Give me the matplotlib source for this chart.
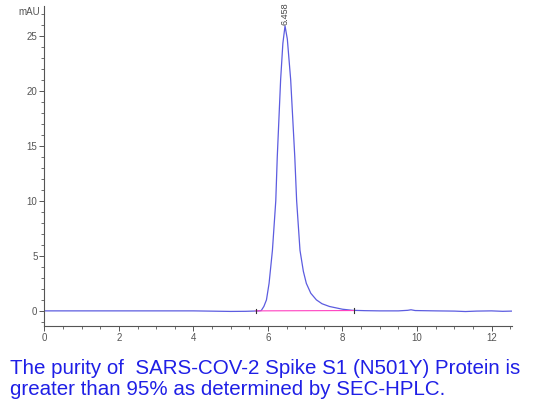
import numpy as np
import matplotlib.pyplot as plt
from matplotlib.ticker import MultipleLocator

plt.rcParams['font.family'] = ['Liberation Sans', 'DejaVu Sans']

# chromatogram trace (min, mAU)
time_min = [0.0, 1.0, 2.0, 3.0, 4.0, 4.6, 5.0, 5.4, 5.6, 5.75, 5.82,
            5.89, 5.96, 6.03, 6.12, 6.21, 6.25, 6.34, 6.40, 6.458,
            6.52, 6.61, 6.72, 6.77, 6.86, 6.95, 7.03, 7.15, 7.30, 7.45,
            7.65, 8.0, 8.27, 8.6, 9.0, 9.5, 9.75, 9.84, 9.95, 10.5,
            11.0, 11.3, 11.6, 12.0, 12.3, 12.55]
signal_mau = [0.0, 0.0, 0.0, 0.0, 0.0, -0.03, -0.05, -0.04, -0.02, 0.0, 0.03,
              0.4, 1.0, 2.5, 5.5, 10.0, 14.0, 21.0, 24.3, 25.9,
              24.7, 21.0, 14.0, 10.0, 5.5, 3.6, 2.5, 1.6, 1.0, 0.65,
              0.4, 0.15, 0.05, 0.02, 0.0, 0.0, 0.05, 0.1, 0.03, 0.0,
              -0.02, -0.06, -0.02, 0.0, -0.04, -0.02]

# integration baseline of the main peak
base_time = [5.67, 8.32]
base_mau = [0.0, 0.03]

peak_rt = 6.458
peak_height = 25.9

xticks = [0, 2, 4, 6, 8, 10, 12]
yticks = [0, 5, 10, 15, 20, 25]

caption = ("The purity of  SARS-COV-2 Spike S1 (N501Y) Protein is\n"
           "greater than 95% as determined by SEC-HPLC.")

fig = plt.figure(figsize=(5.35, 4.05), dpi=100)
ax = fig.add_axes([0.083, 0.196, 0.874, 0.789])

ax.plot(time_min, signal_mau, color='#5c5ce0', lw=0.9)
ax.plot(base_time, base_mau, color='#ff40c0', lw=0.8)
for t, v in zip(base_time, base_mau):
    ax.plot([t, t], [v - 0.2, v + 0.2], color='#333333', lw=0.8)

ax.text(peak_rt, peak_height + 0.1, f'{peak_rt:.3f}', rotation=90, ha='center',
        va='bottom', fontsize=6.5, color='#444444', clip_on=False)

ax.set_xlim(0, 12.55)
ax.set_ylim(-1.34, 27.7)
ax.set_xticks(xticks)
ax.set_yticks(yticks)
ax.xaxis.set_minor_locator(MultipleLocator(0.5))
ax.yaxis.set_minor_locator(MultipleLocator(1))

for side in ['top', 'right']:
    ax.spines[side].set_visible(False)
for side in ['left', 'bottom']:
    ax.spines[side].set_color('#555555')
    ax.spines[side].set_linewidth(0.8)

ax.tick_params(which='major', length=3.5, width=0.7, color='#555555',
               labelsize=7, labelcolor='#555555', pad=1.5)
ax.tick_params(which='minor', length=2, width=0.6, color='#555555')

fig.text(0.075, 1 - 12 / 405, 'mAU', ha='right', va='center',
         fontsize=7, color='#555555')

fig.text(10 / 535, 1 - 379 / 405, caption, ha='left', va='center',
         fontsize=14.8, color='#1f1fe6', linespacing=1.15)

fig.savefig('out.png', dpi=100)
